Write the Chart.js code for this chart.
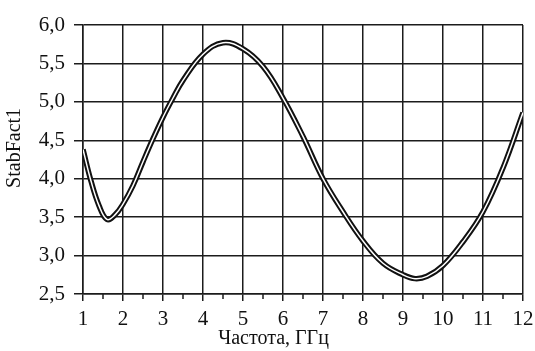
<!DOCTYPE html>
<html>
<head>
<meta charset="utf-8">
<script src="https://cdn.jsdelivr.net/npm/chart.js@4"></script>
<style>
  body { margin: 0; background: #fff; }
</style>
</head>
<body>
<canvas id="stabChart" width="535" height="351"></canvas>
<script>
// frequency, GHz
var freq = [1, 1.2, 1.4, 1.6, 1.8, 2, 2.25, 2.5, 2.75, 3, 3.25, 3.5, 4, 4.5, 5, 5.5, 6, 6.5, 7, 7.5, 8, 8.5, 9, 9.3, 9.6, 10, 10.5, 11, 11.5, 12];
// StabFact1 values
var stabFact = [4.38, 3.97, 3.65, 3.47, 3.53, 3.67, 3.91, 4.22, 4.52, 4.8, 5.05, 5.28, 5.62, 5.77, 5.69, 5.46, 5.05, 4.55, 4.0, 3.57, 3.19, 2.9, 2.75, 2.7, 2.73, 2.87, 3.18, 3.57, 4.14, 4.86];
var xTitle = 'Частота, ГГц';
var yTitle = 'StabFact1';

var points = freq.map(function (f, i) { return { x: f, y: stabFact[i] }; });
var lineColor = '#1c1c1c';
var serif = '"Liberation Serif", "Times New Roman", serif';

// short ticks at half steps + axis titles
var extras = {
    id: 'extras',
    afterDraw: function (chart) {
        var ctx = chart.ctx;
        var xs = chart.scales.x;
        var area = chart.chartArea;
        ctx.save();
        ctx.strokeStyle = lineColor;
        ctx.lineWidth = 1.5;
        for (var v = 1.5; v < 12; v += 1) {
            var px = xs.getPixelForValue(v);
            ctx.beginPath();
            ctx.moveTo(px, area.bottom);
            ctx.lineTo(px, area.bottom + 5);
            ctx.stroke();
        }
        ctx.fillStyle = '#111';
        ctx.font = '20px ' + serif;
        ctx.textAlign = 'center';
        ctx.textBaseline = 'middle';
        ctx.fillText(xTitle, area.left + (area.right - area.left) * 0.433, 339);
        ctx.translate(15, area.top + (area.bottom - area.top) * 0.457);
        ctx.rotate(-Math.PI / 2);
        ctx.fillText(yTitle, 0, 0);
        ctx.restore();
    }
};

var ctx = document.getElementById('stabChart').getContext('2d');
var chart = new Chart(ctx, {
    type: 'line',
    data: {
        datasets: [{
            data: points,
            borderColor: '#111',
            borderWidth: 5.5,
            pointRadius: 0,
            tension: 0.4,
            order: 2
        }, {
            data: points,
            borderColor: '#fff',
            borderWidth: 1.5,
            pointRadius: 0,
            tension: 0.4,
            order: 1
        }]
    },
    options: {
        responsive: false,
        animation: false,
        layout: { padding: { top: 25, right: 12, left: 0, bottom: 0 } },
        plugins: {
            legend: { display: false },
            tooltip: { enabled: false }
        },
        scales: {
            x: {
                type: 'linear',
                min: 1,
                max: 12,
                afterFit: function (scale) {
                    scale.height = 57;
                    scale.paddingLeft = 0;
                    scale.paddingRight = 0;
                },
                ticks: {
                    stepSize: 1,
                    color: '#111',
                    padding: 6,
                    maxRotation: 0,
                    font: { family: serif, size: 21 }
                },
                grid: { color: lineColor, lineWidth: 1.5, tickLength: 7 },
                border: { color: lineColor, width: 1.5 }
            },
            y: {
                min: 2.5,
                max: 6,
                afterFit: function (scale) {
                    scale.width = 83;
                    scale.paddingTop = 0;
                    scale.paddingBottom = 0;
                },
                ticks: {
                    stepSize: 0.5,
                    color: '#111',
                    padding: 9,
                    font: { family: serif, size: 21 },
                    callback: function (v) { return v.toFixed(1).replace('.', ','); }
                },
                grid: { color: lineColor, lineWidth: 1.5, tickLength: 9 },
                border: { color: lineColor, width: 1.5 }
            }
        }
    },
    plugins: [extras]
});
</script>
</body>
</html>
